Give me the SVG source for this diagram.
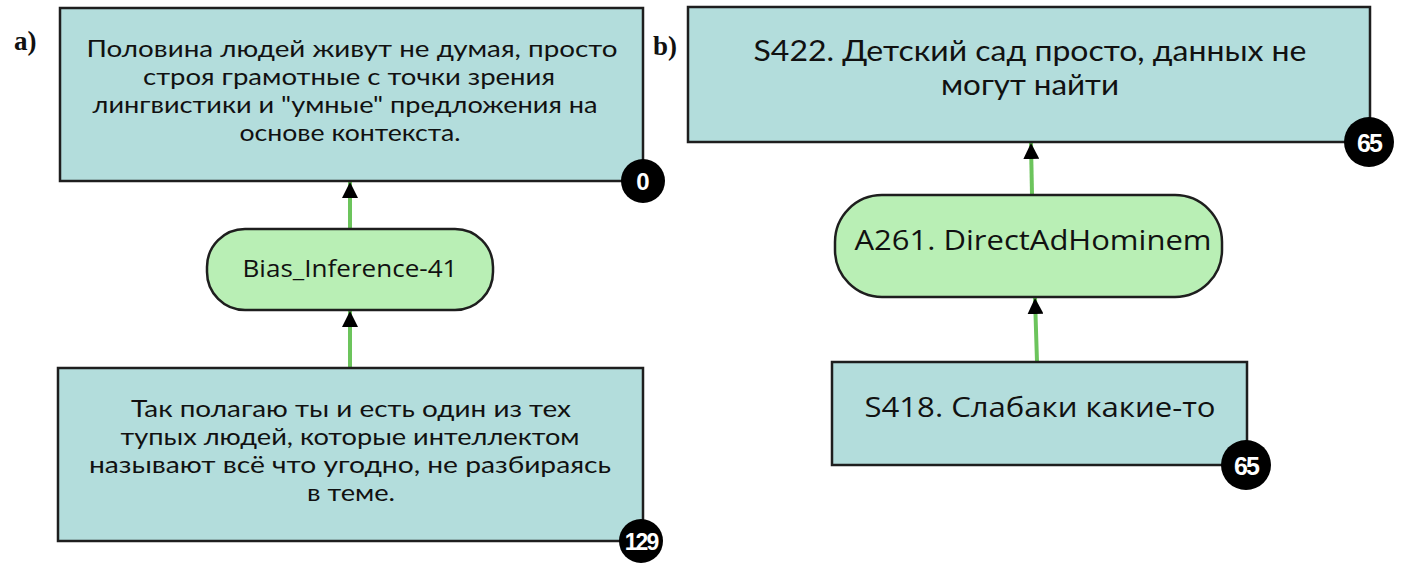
<svg xmlns="http://www.w3.org/2000/svg" width="1403" height="567" viewBox="0 0 1403 567">
<defs>
<style>
.box{fill:#b3dddc;stroke:#1e1e1e;stroke-width:2.5}
.inf{fill:#b9efb5;stroke:#1e1e1e;stroke-width:2.5}
.t{font-family:"Open Sans","Noto Sans",sans-serif;fill:#111;text-anchor:middle}
.m{font-family:Lato,"Open Sans",sans-serif;fill:#111;text-anchor:middle}
.badge{fill:#000}
.bt{font-family:"Liberation Sans",Arial,sans-serif;fill:#fff;text-anchor:middle;font-weight:bold}
.lbl{font-family:"Liberation Serif","Times New Roman",serif;fill:#111;font-size:27px;font-weight:bold}
.edge{stroke:#6cc45c;stroke-width:4;fill:none;marker-end:url(#ah)}
</style>
<marker id="ah" viewBox="0 0 10 10" refX="10" refY="5" markerWidth="4" markerHeight="4" orient="auto" markerUnits="strokeWidth">
<path d="M0,0 L10,5 L0,10 Z" fill="#000"/>
</marker>
</defs>
<rect width="1403" height="567" fill="#fff"/>
<text class="lbl" x="14" y="50">a)</text>
<text class="lbl" x="653" y="55">b)</text>
<g id="edges">
<path class="edge" d="M350,229 L350,182"/>
<path class="edge" d="M350,368 L350,311"/>
<path class="edge" d="M1032,195 L1031,143"/>
<path class="edge" d="M1037,362 L1035,298"/>
</g>
<g id="nodeA">
<rect class="box" x="60" y="8" width="583" height="173"/>
<text class="m" font-size="23"><tspan x="352" y="57" textLength="531" lengthAdjust="spacingAndGlyphs">Половина людей живут не думая, просто</tspan><tspan x="349" y="85" textLength="412" lengthAdjust="spacingAndGlyphs">строя грамотные с точки зрения</tspan><tspan x="345" y="113" textLength="505" lengthAdjust="spacingAndGlyphs">лингвистики и "умные" предложения на</tspan><tspan x="350" y="141" textLength="221" lengthAdjust="spacingAndGlyphs">основе контекста.</tspan></text>
<circle class="badge" cx="643" cy="181" r="22"/>
<text class="bt" x="643" y="190" font-size="24">0</text>
</g>
<g id="nodeBias">
<rect class="inf" x="207" y="229" width="286" height="81" rx="38"/>
<text class="t" x="350" y="277" font-size="24" textLength="215" lengthAdjust="spacingAndGlyphs">Bias_Inference-41</text>
</g>
<g id="nodeC">
<rect class="box" x="58" y="368" width="585" height="173"/>
<text class="m" font-size="23"><tspan x="351" y="417" textLength="440" lengthAdjust="spacingAndGlyphs">Так полагаю ты и есть один из тех</tspan><tspan x="350" y="445" textLength="459" lengthAdjust="spacingAndGlyphs">тупых людей, которые интеллектом</tspan><tspan x="350" y="473" textLength="522" lengthAdjust="spacingAndGlyphs">называют всё что угодно, не разбираясь</tspan><tspan x="351" y="501" textLength="88" lengthAdjust="spacingAndGlyphs">в теме.</tspan></text>
<circle class="badge" cx="641" cy="541" r="22"/>
<text class="bt" x="641" y="550" font-size="23" letter-spacing="-2">129</text>
</g>
<g id="nodeS422">
<rect class="box" x="688" y="7" width="682" height="135"/>
<text class="m" font-size="28"><tspan x="1030" y="61" textLength="553" lengthAdjust="spacingAndGlyphs">S422. Детский сад просто, данных не</tspan><tspan x="1030" y="95" textLength="178" lengthAdjust="spacingAndGlyphs">могут найти</tspan></text>
<circle class="badge" cx="1369" cy="142" r="25"/>
<text class="bt" x="1369" y="152" font-size="25" letter-spacing="-2">65</text>
</g>
<g id="nodeA261">
<rect class="inf" x="835" y="195" width="387" height="102" rx="47"/>
<text class="t" x="1033" y="250" font-size="28" textLength="357" lengthAdjust="spacingAndGlyphs">A261. DirectAdHominem</text>
</g>
<g id="nodeS418">
<rect class="box" x="832" y="362" width="415" height="103"/>
<text class="t" x="1040" y="417" font-size="28" textLength="351" lengthAdjust="spacingAndGlyphs">S418. Слабаки какие-то</text>
<circle class="badge" cx="1246" cy="465" r="25"/>
<text class="bt" x="1246" y="475" font-size="25" letter-spacing="-2">65</text>
</g>
</svg>
